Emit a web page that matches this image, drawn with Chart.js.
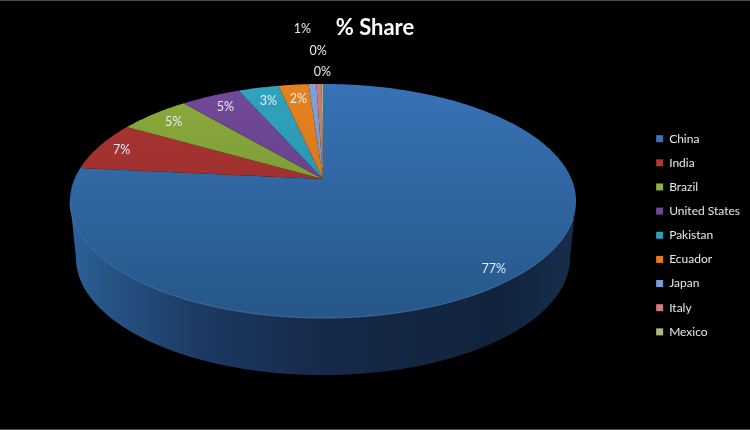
<!DOCTYPE html>
<html><head><meta charset="utf-8">
<script src="https://cdn.jsdelivr.net/npm/chart.js@4"></script>
<style>
html,body{margin:0;padding:0;background:#000;width:750px;height:430px;overflow:hidden}
#c{display:block;filter:blur(0.55px)}
.edge{position:absolute;left:0;width:750px;height:1px;background:#4a4a4a}
</style></head><body>
<canvas id="c" width="750" height="430"></canvas>
<div class="edge" style="top:0"></div><div class="edge" style="top:429px"></div>
<script>
const categories = ["China","India","Brazil","United States","Pakistan","Ecuador","Japan","Italy","Mexico"];
const shareValues = [76.6,6.8,5.5,4.6,3.1,2.3,0.6,0.4,0.1];
const shareLabels = ["77%","7%","5%","5%","3%","2%","1%","0%","0%"];
const legendColors = ["#3a72b5","#b03432","#8eb040","#6f4a94","#2f9fbb","#e0801f","#7f9fd2","#cf7b78","#a9bb7c"];
const topColors = ["#3872b6","#ad3532","#8aab3d","#72499a","#30a3bf","#e6811f","#81a0d3","#d07c79","#a9bb7c"];
const lowColors = ["#275789","#8a2b2a","#6f8a30","#5b3b7a","#26849b","#c66f1a","#6f8cba","#b56a68","#8da066"];
const labelOffsets = [[-23,-7],[22,4],[20,8],[15,11],[10,13],[5,14],[-10,-55],[-1,-33],[0,-12]];

// projection of the pie's circle onto the tilted plane
const P = {cx:323, y0:179, A:248.5, B:112.9, k:0.188, wallY:236, wallA:242.6, topY:84, lowY:318};
const proj = (th, r, A, y0) => {
  const u = r*Math.cos(th), v = r*Math.sin(th), w = 1 - P.k*v;
  return [P.cx + A*u/w, y0 + P.B*v/w];
};
const rim = (ctx, a, b, A, y0, first) => {
  const n = Math.max(2, Math.ceil(Math.abs(b-a)/0.01));
  for (let i=0;i<=n;i++){
    const p = proj(a+(b-a)*i/n, 1, A, y0);
    if (i===0 && first) ctx.moveTo(p[0],p[1]); else ctx.lineTo(p[0],p[1]);
  }
};
const tiltPlugin = {
  id:'tilt',
  beforeDatasetsDraw(chart){
    const ctx = chart.ctx, meta = chart.getDatasetMeta(0);
    const t0 = Math.asin(P.k), t1 = Math.PI - t0;
    // side wall
    const g = ctx.createLinearGradient(70,0,576,0);
    g.addColorStop(0,'#2d619c'); g.addColorStop(0.06,'#275688'); g.addColorStop(0.26,'#1c3a62');
    g.addColorStop(0.5,'#16294a'); g.addColorStop(0.85,'#11233b'); g.addColorStop(1,'#172e4c');
    ctx.save(); ctx.beginPath();
    rim(ctx,t0,t1,P.A,P.y0,true); rim(ctx,t1,t0,P.wallA,P.wallY,false);
    ctx.closePath(); ctx.fillStyle=g; ctx.fill(); ctx.restore();
    // top faces follow the library's arc angles
    meta.data.forEach((arc,i)=>{
      arc.draw = function(c){
        const grad = c.createLinearGradient(0,P.topY,0,P.lowY);
        grad.addColorStop(0,topColors[i]); grad.addColorStop(1,lowColors[i]);
        c.save(); c.beginPath(); c.moveTo(P.cx,P.y0);
        rim(c,this.startAngle,this.endAngle,P.A,P.y0,false);
        c.closePath(); c.fillStyle=grad; c.fill();
        c.restore();
      };
    });
  },
  afterDatasetsDraw(chart){
    const ctx = chart.ctx, meta = chart.getDatasetMeta(0);
    const t0 = Math.asin(P.k), t1 = Math.PI - t0;
    ctx.save();
    ctx.beginPath(); rim(ctx,t0+0.15,t1,P.A,P.y0,true);
    ctx.strokeStyle='rgba(90,145,210,0.55)'; ctx.lineWidth=1; ctx.stroke();
    ctx.fillStyle='#e8ecf2'; ctx.font='12.5px Lato'; ctx.textAlign='center'; ctx.textBaseline='middle';
    meta.data.forEach((arc,i)=>{
      const p = proj((arc.startAngle+arc.endAngle)/2,1,P.A,P.y0);
      ctx.fillText(shareLabels[i],p[0]+labelOffsets[i][0],p[1]+labelOffsets[i][1]);
    });
    ctx.restore();
  }
};
new Chart(document.getElementById('c'),{
  type:'pie',
  data:{labels:categories,datasets:[{data:shareValues,backgroundColor:legendColors,borderWidth:0}]},
  plugins:[tiltPlugin],
  options:{
    responsive:false,animation:false,
    layout:{padding:{right:0,top:0,bottom:80}},
    plugins:{
      tooltip:{enabled:false},
      title:{display:true,text:'% Share',color:'#ffffff',font:{family:'Lato',size:22,weight:'bold'},padding:{top:15,bottom:46}},
      legend:{position:'right',align:'end',
        labels:{color:'#e4e8ee',font:{family:'Lato',size:12},boxWidth:7,boxHeight:7,padding:12.15}}
    }
  }
});
</script>
</body></html>
